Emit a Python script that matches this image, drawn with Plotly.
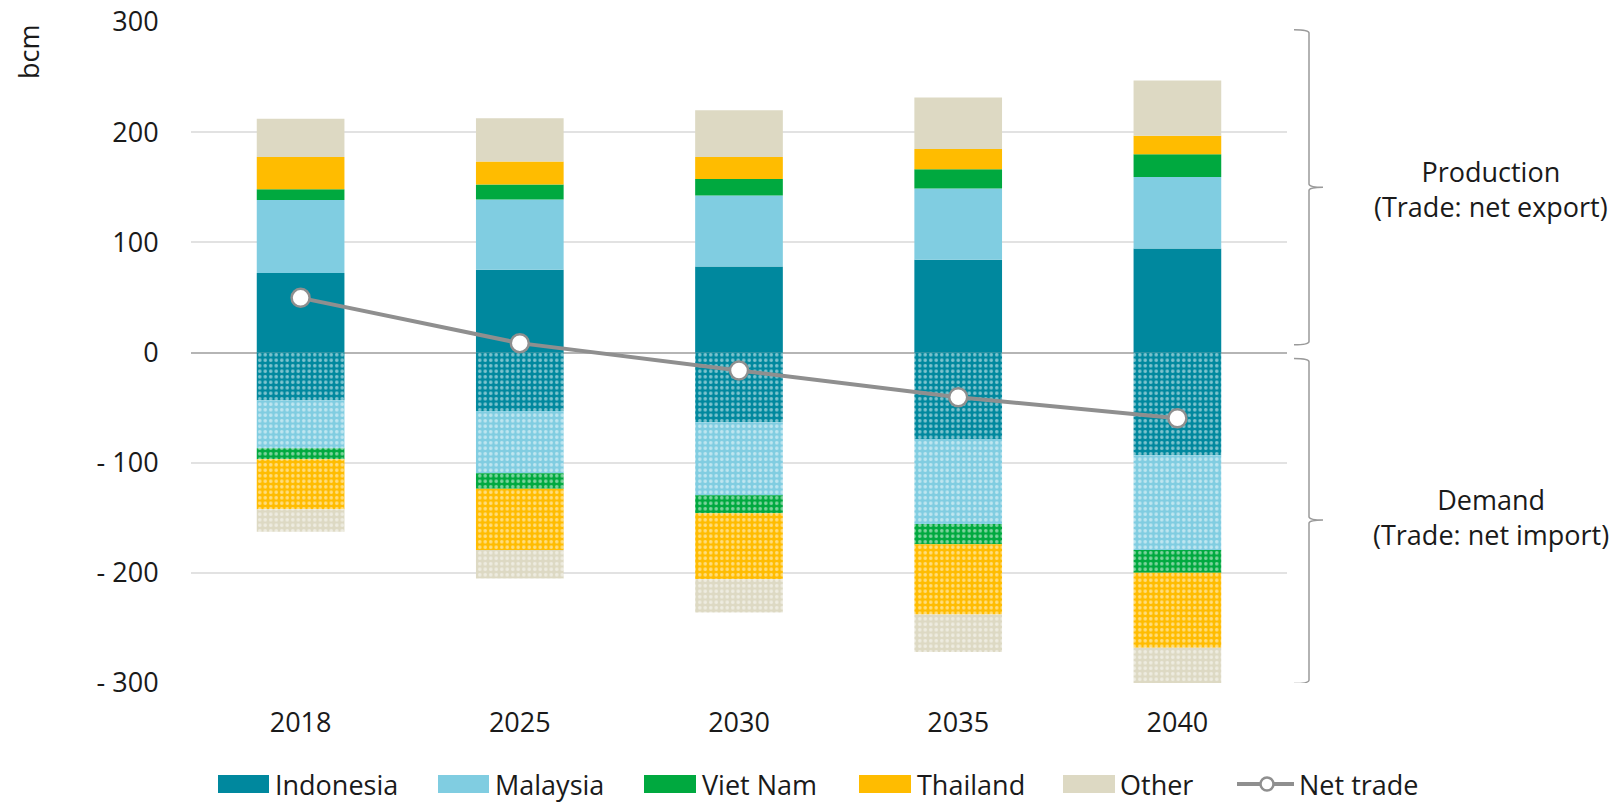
import plotly.graph_objects as go

years = ["2018", "2025", "2030", "2035", "2040"]
countries = ["Indonesia", "Malaysia", "Viet Nam", "Thailand", "Other"]
colors = ["#00889E", "#80CDE1", "#00A93F", "#FFBC00", "#DDD9C3"]

production = {
    "Indonesia": [72.2, 75.2, 78.1, 84.1, 94.4],
    "Malaysia": [66.3, 63.7, 64.5, 64.8, 64.9],
    "Viet Nam": [9.6, 13.7, 14.8, 17.4, 20.7],
    "Thailand": [29.3, 20.7, 20.0, 18.5, 16.7],
    "Other": [34.8, 39.3, 42.6, 46.7, 50.3],
}
demand = {
    "Indonesia": [43.3, 53.0, 63.3, 78.5, 93.3],
    "Malaysia": [43.7, 56.6, 66.3, 77.1, 86.0],
    "Viet Nam": [10.0, 14.1, 16.3, 18.5, 20.7],
    "Thailand": [45.2, 55.6, 60.0, 63.7, 68.1],
    "Other": [20.4, 25.9, 30.0, 34.1, 38.5],
}
net_trade = [49.6, 8.5, -16.3, -40.7, -59.6]

y_ticks = [300, 200, 100, 0, -100, -200, -300]
y_ticktext = ["300", "200", "100", "0", "- 100", "- 200", "- 300"]

FONT = "Open Sans"
FS = 27
TXT = "#1a1a1a"
GRAY = "#8f8f8f"

W, H = 1623, 802
ML, MR, MT, MB = 191, 336, 22, 119
PW, PH = W - ML - MR, H - MT - MB


def px(x):
    return (x - ML) / PW


def py(y):
    return (H - MB - y) / PH


fig = go.Figure()

for c, col in zip(countries, colors):
    fig.add_trace(go.Bar(
        x=years, y=production[c], name=c, marker=dict(color=col, line=dict(width=0)),
        showlegend=False,
    ))
    fig.add_trace(go.Bar(
        x=years, y=[-v for v in demand[c]], name=c + " demand",
        marker=dict(color=col, line=dict(width=0),
                    pattern=dict(shape=".", bgcolor=col, fgcolor="white",
                                 fillmode="overlay", size=5.5, solidity=0.33)),
        showlegend=False,
    ))

fig.add_trace(go.Scatter(
    x=years, y=net_trade, name="Net trade", mode="lines+markers",
    line=dict(color=GRAY, width=4),
    marker=dict(size=18, color="white", line=dict(color=GRAY, width=2.5)),
    showlegend=False,
))

shapes = []
annotations = []

# brackets on the right
bx0, bx1, btip = px(1294), px(1309), px(1323)


def bracket(top, mid, bot):
    r = 3
    return (f"M {bx0},{top} Q {bx1},{top} {bx1},{top - r} "
            f"L {bx1},{mid + r} Q {bx1},{mid} {btip},{mid} "
            f"Q {bx1},{mid} {bx1},{mid - r} "
            f"L {bx1},{bot + r} Q {bx1},{bot} {bx0},{bot}")


shapes.append(dict(type="path", xref="paper", yref="y", path=bracket(293, 150, 7),
                   line=dict(color="#9a9a9a", width=1.5)))
shapes.append(dict(type="path", xref="paper", yref="y", path=bracket(-5.5, -152, -300.5),
                   line=dict(color="#9a9a9a", width=1.5)))

annotations.append(dict(xref="paper", yref="y", x=px(1491), y=148,
                        text="Production<br>(Trade: net export)", showarrow=False,
                        xanchor="center", yanchor="middle", align="center",
                        font=dict(family=FONT, size=FS, color=TXT)))
annotations.append(dict(xref="paper", yref="y", x=px(1491), y=-149,
                        text="Demand<br>(Trade: net import)", showarrow=False,
                        xanchor="center", yanchor="middle", align="center",
                        font=dict(family=FONT, size=FS, color=TXT)))

annotations.append(dict(xref="paper", yref="paper", x=px(28), y=py(52), text="bcm",
                        textangle=-90, showarrow=False, xanchor="center", yanchor="middle",
                        font=dict(family=FONT, size=FS, color=TXT)))

# custom legend
LY = 784
leg = [(218, 269, 273), (438, 489, 493), (644, 696, 700), (859, 911, 915), (1063, 1115, 1118)]
for (x0, x1, tx), c, col in zip(leg, countries, colors):
    shapes.append(dict(type="rect", xref="paper", yref="paper", x0=px(x0), x1=px(x1),
                       y0=py(LY + 9), y1=py(LY - 9), fillcolor=col, line=dict(width=0)))
    annotations.append(dict(xref="paper", yref="paper", x=px(tx), y=py(LY), text=c,
                            showarrow=False, xanchor="left", yanchor="middle",
                            font=dict(family=FONT, size=FS, color=TXT)))
shapes.append(dict(type="line", xref="paper", yref="paper", x0=px(1237), x1=px(1294),
                   y0=py(LY), y1=py(LY), line=dict(color=GRAY, width=4)))
shapes.append(dict(type="circle", xref="paper", yref="paper", x0=px(1260.5), x1=px(1273.5),
                   y0=py(LY + 6.5), y1=py(LY - 6.5), fillcolor="white", line=dict(color=GRAY, width=2.5)))
annotations.append(dict(xref="paper", yref="paper", x=px(1297), y=py(LY), text="Net trade",
                        showarrow=False, xanchor="left", yanchor="middle",
                        font=dict(family=FONT, size=FS, color=TXT)))

fig.update_layout(
    width=W, height=H,
    margin=dict(l=ML, r=MR, t=MT, b=MB, pad=0),
    barmode="relative", bargap=0.6,
    plot_bgcolor="white", paper_bgcolor="white",
    font=dict(family=FONT, size=FS, color=TXT),
    shapes=shapes, annotations=annotations,
    showlegend=False,
)
fig.update_xaxes(type="category", showgrid=False, showline=False, zeroline=False,
                 ticks="outside", ticklen=16, tickcolor="rgba(0,0,0,0)",
                 tickfont=dict(family=FONT, size=FS, color=TXT), automargin=False)
fig.update_yaxes(range=[-300, 300], tickvals=y_ticks, ticktext=y_ticktext,
                 showgrid=True, gridcolor="#e2e2e2", gridwidth=2,
                 zeroline=True, zerolinecolor="#b5b5b5", zerolinewidth=2,
                 showline=False, ticks="outside", ticklen=26, tickcolor="rgba(0,0,0,0)",
                 tickfont=dict(family=FONT, size=FS, color=TXT), automargin=False)

fig.write_html(
    "out.html",
    config={"displayModeBar": False},
    post_script="document.body.style.margin='0';document.body.style.overflow='hidden';"
                "document.documentElement.style.overflow='hidden';",
)
